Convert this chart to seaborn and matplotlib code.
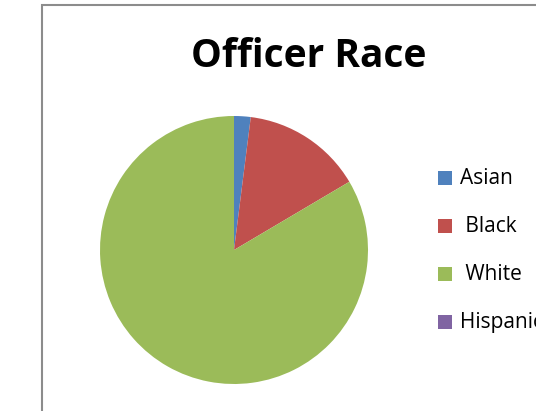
import matplotlib
matplotlib.use("Agg")
import matplotlib.pyplot as plt
import seaborn as sns
from matplotlib.patches import Rectangle

categories = ["Asian", "Black", "White", "Hispanic"]
values = [2.0, 14.5, 83.5, 0.0]
legend_labels = ["Asian", " Black", " White", "Hispanic"]
colors = ["#4F81BD", "#C0504D", "#9BBB59", "#8064A2"]
title = "Officer Race"

sns.set_theme(style="white")
plt.rcParams['font.family'] = ['Open Sans', 'DejaVu Sans']

W, H = 536, 411
fig = plt.figure(figsize=(W / 100, H / 100), dpi=100)

# chart frame
fig.patches.append(Rectangle((42 / W, -0.1), 1.0, (411 - 5) / H + 0.1, transform=fig.transFigure,
                             fill=False, edgecolor="#8c8c8c", linewidth=1.5))

cx, cy, r = 234, 250, 134
ax = fig.add_axes([(cx - r) / W, (H - cy - r) / H, 2 * r / W, 2 * r / H])
ax.pie(values, colors=colors, startangle=90, counterclock=False, radius=1,
       wedgeprops=dict(linewidth=0))
ax.set_aspect('auto')
ax.set_xlim(-1, 1)
ax.set_ylim(-1, 1)
ax.axis('off')

fig.text(309 / W, 1 - 56 / H, title, ha='center', va='center', fontsize=28, fontweight='bold',
         color='black')

# legend
y0, step = 178, 48
for i, (lab, c) in enumerate(zip(legend_labels, colors)):
    yc = y0 + i * step
    fig.patches.append(Rectangle((438 / W, 1 - (yc + 7) / H), 14 / W, 14 / H,
                                 transform=fig.transFigure, facecolor=c, edgecolor='none'))
    fig.text(460 / W, 1 - yc / H, lab, ha='left', va='center', fontsize=15, color='black')

fig.savefig("out.png", dpi=100)
